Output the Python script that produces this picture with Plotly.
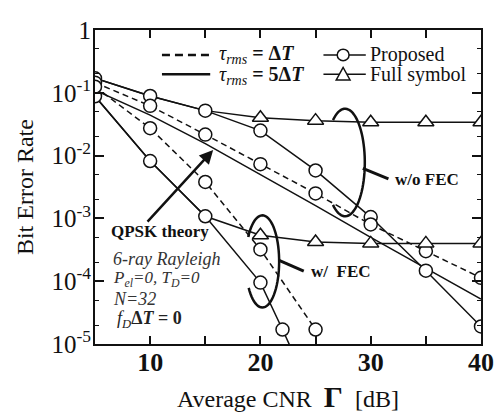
import numpy as np
import plotly.graph_objects as go

# ---------------- data ----------------
cnr = [5, 10, 15, 20, 25, 30, 35, 40]
prop_5dT_nofec = [0.17, 0.089, 0.052, 0.025, 0.0058, 0.00105, 0.000147, 0.000019]
prop_dT_nofec = [0.145, 0.062, 0.0216, 0.0073, 0.0025, 0.0008, 0.0003, 0.000113]
full_5dT_nofec = [0.17, 0.089, 0.052, 0.040, 0.036, 0.034, 0.034, 0.034]
qpsk_theory = [0.11, 0.044, 0.0155, 0.005, 0.0016, 0.0005, 0.00016, 0.000052]

cnr_prop_5dT_fec = [5, 10, 15, 20, 22, 25]
prop_5dT_fec = [0.088, 0.0082, 0.00108, 0.000095, 0.000017, 0.0000012]
cnr_prop_dT_fec = [5, 10, 15, 20, 25]
prop_dT_fec = [0.125, 0.0273, 0.0038, 0.00032, 0.000017]
full_5dT_fec = [0.088, 0.0082, 0.00108, 0.00054, 0.00042, 0.0004, 0.0004, 0.0004]

full_start = 3  # triangles shown from 20 dB on

x_ticks = [5, 10, 15, 20, 25, 30, 35, 40]
x_ticktext = ["", "10", "", "20", "", "30", "", "40"]
y_ticks = [1e-5, 1e-4, 1e-3, 1e-2, 1e-1, 1]
y_ticktext = ["10<sup>-5</sup>", "10<sup>-4</sup>", "10<sup>-3</sup>",
              "10<sup>-2</sup>", "10<sup>-1</sup>", "1"]

FONT = "Liberation Serif, Times New Roman, serif"
INK = "#111111"
OFF = 8  # default page margin of the html body
W, H = 503 - OFF, 418 - OFF
L, R, T, B = 95, 487, 17, 344  # plot area in window pixels


def px(x):
    return (x - L) / (R - L)


def py(y):
    return (B - y) / (B - T)


fig = go.Figure()

line_solid = dict(color=INK, width=1.5)
line_dash = dict(color=INK, width=1.5, dash="6px,4px")

# lines first
fig.add_trace(go.Scatter(x=cnr, y=full_5dT_nofec, mode="lines", line=line_solid))
fig.add_trace(go.Scatter(x=cnr, y=full_5dT_fec, mode="lines", line=line_solid))
fig.add_trace(go.Scatter(x=cnr, y=qpsk_theory, mode="lines", line=line_solid))
fig.add_trace(go.Scatter(x=cnr, y=prop_5dT_nofec, mode="lines", line=line_solid))
fig.add_trace(go.Scatter(x=cnr, y=prop_dT_nofec, mode="lines", line=line_dash))
fig.add_trace(go.Scatter(x=cnr_prop_5dT_fec, y=prop_5dT_fec, mode="lines", line=line_solid))
fig.add_trace(go.Scatter(x=cnr_prop_dT_fec, y=prop_dT_fec, mode="lines", line=line_dash))

circ = dict(symbol="circle", size=13, color="white", line=dict(color=INK, width=1.5))
tri = dict(symbol="triangle-up", size=14, color="white", line=dict(color=INK, width=1.5))

for xs, ys in [(cnr, prop_5dT_nofec), (cnr, prop_dT_nofec),
               (cnr_prop_5dT_fec, prop_5dT_fec), (cnr_prop_dT_fec, prop_dT_fec)]:
    fig.add_trace(go.Scatter(x=xs, y=ys, mode="markers", marker=circ))
fig.add_trace(go.Scatter(x=cnr[full_start:], y=full_5dT_nofec[full_start:], mode="markers", marker=tri))
fig.add_trace(go.Scatter(x=cnr[full_start:], y=full_5dT_fec[full_start:], mode="markers", marker=tri))

shapes = []
annotations = []

# ---- legend (drawn manually) ----
shapes.append(dict(type="line", xref="paper", yref="paper", x0=px(163), x1=px(212), y0=py(43), y1=py(43),
                   line=dict(color=INK, width=2.5, dash="8px,5px")))
shapes.append(dict(type="line", xref="paper", yref="paper", x0=px(163), x1=px(212), y0=py(63), y1=py(63),
                   line=dict(color=INK, width=2.5)))
shapes.append(dict(type="line", xref="paper", yref="paper", x0=px(327), x1=px(370), y0=py(43), y1=py(43),
                   line=dict(color=INK, width=1.5)))
shapes.append(dict(type="line", xref="paper", yref="paper", x0=px(327), x1=px(370), y0=py(63), y1=py(63),
                   line=dict(color=INK, width=1.5)))
shapes.append(dict(type="circle", xref="paper", yref="paper", x0=px(341), x1=px(353), y0=py(49), y1=py(37),
                   fillcolor="white", line=dict(color=INK, width=1.5)))
tp = [(347, 56), (340, 69), (354, 69)]
shapes.append(dict(type="path", xref="paper", yref="paper",
                   path="M {} {} L {} {} L {} {} Z".format(px(tp[0][0]), py(tp[0][1]), px(tp[1][0]), py(tp[1][1]),
                                                          px(tp[2][0]), py(tp[2][1])),
                   fillcolor="white", line=dict(color=INK, width=1.5)))

annotations += [
    dict(x=px(219), y=py(43), text="<i>τ</i><sub><i>rms</i></sub><b> = Δ<i>T</i></b>",
         font=dict(size=20, family=FONT, color=INK)),
    dict(x=px(219), y=py(64), text="<i>τ</i><sub><i>rms</i></sub><b> = 5Δ<i>T</i></b>",
         font=dict(size=20, family=FONT, color=INK)),
    dict(x=px(372), y=py(42), text="Proposed", font=dict(size=20, family=FONT, color=INK)),
    dict(x=px(372), y=py(63), text="Full symbol", font=dict(size=20, family=FONT, color=INK)),
]


# ---- ellipses ----
def ellipse_path(cx, cy, a, b, t0, t1, n=60):
    th = np.radians(np.linspace(t0, t1, n))
    xs = cx + a * np.cos(th)
    ys = cy + b * np.sin(th)
    pts = ["{:.5f} {:.5f}".format(px(x), py(y)) for x, y in zip(xs, ys)]
    return "M " + " L ".join(pts)


shapes.append(dict(type="path", xref="paper", yref="paper", path=ellipse_path(349, 155, 20, 56, 232, 488),
                   line=dict(color=INK, width=2.5)))
shapes.append(dict(type="path", xref="paper", yref="paper", path=ellipse_path(265, 258, 17, 48, 212, 505),
                   line=dict(color=INK, width=2.5)))
# leader lines
shapes.append(dict(type="line", xref="paper", yref="paper", x0=px(367), y0=py(161), x1=px(393), y1=py(172),
                   line=dict(color=INK, width=3)))
shapes.append(dict(type="line", xref="paper", yref="paper", x0=px(282), y0=py(257), x1=px(307), y1=py(268),
                   line=dict(color=INK, width=3)))

annotations += [
    dict(x=px(398), y=py(173), text="<b>w/o FEC</b>", font=dict(size=17, family=FONT, color=INK)),
    dict(x=px(312), y=py(268), text="<b>w/  FEC</b>", font=dict(size=17, family=FONT, color=INK)),
    dict(x=px(109), y=py(227), text="<b>QPSK theory</b>", font=dict(size=17, family=FONT, color=INK)),
    dict(x=px(111), y=py(256), text="<i>6-ray Rayleigh</i>", font=dict(size=18, family=FONT, color="#333")),
    dict(x=px(111), y=py(276), text="<i>P<sub>el</sub>=0, T<sub>D</sub>=0</i>",
         font=dict(size=17, family=FONT, color="#333")),
    dict(x=px(111), y=py(297), text="<i>N=32</i>", font=dict(size=18, family=FONT, color="#333")),
    dict(x=px(115), y=py(319), text="<i>f<sub>D</sub></i><b>Δ<i>T</i> = 0</b>",
         font=dict(size=18, family=FONT, color="#222")),
]
for a in annotations:
    a.update(xref="paper", yref="paper", xanchor="left", yanchor="middle", showarrow=False)

# QPSK arrow
annotations.append(dict(xref="paper", yref="paper", x=px(215), y=py(142), ax=-67, ay=73, text="",
                        showarrow=True, arrowhead=2, arrowsize=1.1, arrowwidth=2.5, arrowcolor=INK,
                        standoff=0, startstandoff=0))

# axis titles
annotations.append(dict(xref="paper", yref="paper", x=px(291), y=py(399), xanchor="center", yanchor="middle",
                        text="Average CNR  <span style='font-size:30px'><b>Γ</b></span>  [dB]",
                        showarrow=False, font=dict(size=24, family=FONT, color=INK)))
annotations.append(dict(xref="paper", yref="paper", x=px(24), y=0.5, xanchor="center", yanchor="middle",
                        text="Bit Error Rate", textangle=-90,
                        showarrow=False, font=dict(size=24, family=FONT, color=INK)))

fig.update_layout(
    width=W, height=H, autosize=False,
    margin=dict(l=L - OFF, r=503 - R, t=T - OFF, b=418 - B, pad=0),
    paper_bgcolor="white", plot_bgcolor="white",
    showlegend=False,
    shapes=shapes, annotations=annotations,
    font=dict(family=FONT, color=INK),
)
fig.update_xaxes(range=[5, 40], tickvals=x_ticks, ticktext=x_ticktext, ticks="inside", ticklen=8,
                 tickwidth=1.5, tickcolor=INK, showline=True, linewidth=2, linecolor=INK, mirror="ticks",
                 showgrid=False, zeroline=False, ticklabelstandoff=-6, ticklabeloverflow="allow",
                 tickfont=dict(size=26, family=FONT, color=INK, weight="bold"))
fig.update_yaxes(type="log", range=[-5, 0], tickvals=y_ticks, ticktext=y_ticktext, ticks="inside", ticklen=9,
                 tickwidth=1.5, tickcolor=INK, showline=True, linewidth=2, linecolor=INK, mirror="ticks",
                 showgrid=False, zeroline=False, ticklabelstandoff=-3, ticklabeloverflow="allow",
                 minor=dict(ticks="inside", ticklen=4, tickwidth=1, tickcolor=INK, showgrid=False),
                 tickfont=dict(size=25, family=FONT, color=INK))

fig.write_html("out.html")
